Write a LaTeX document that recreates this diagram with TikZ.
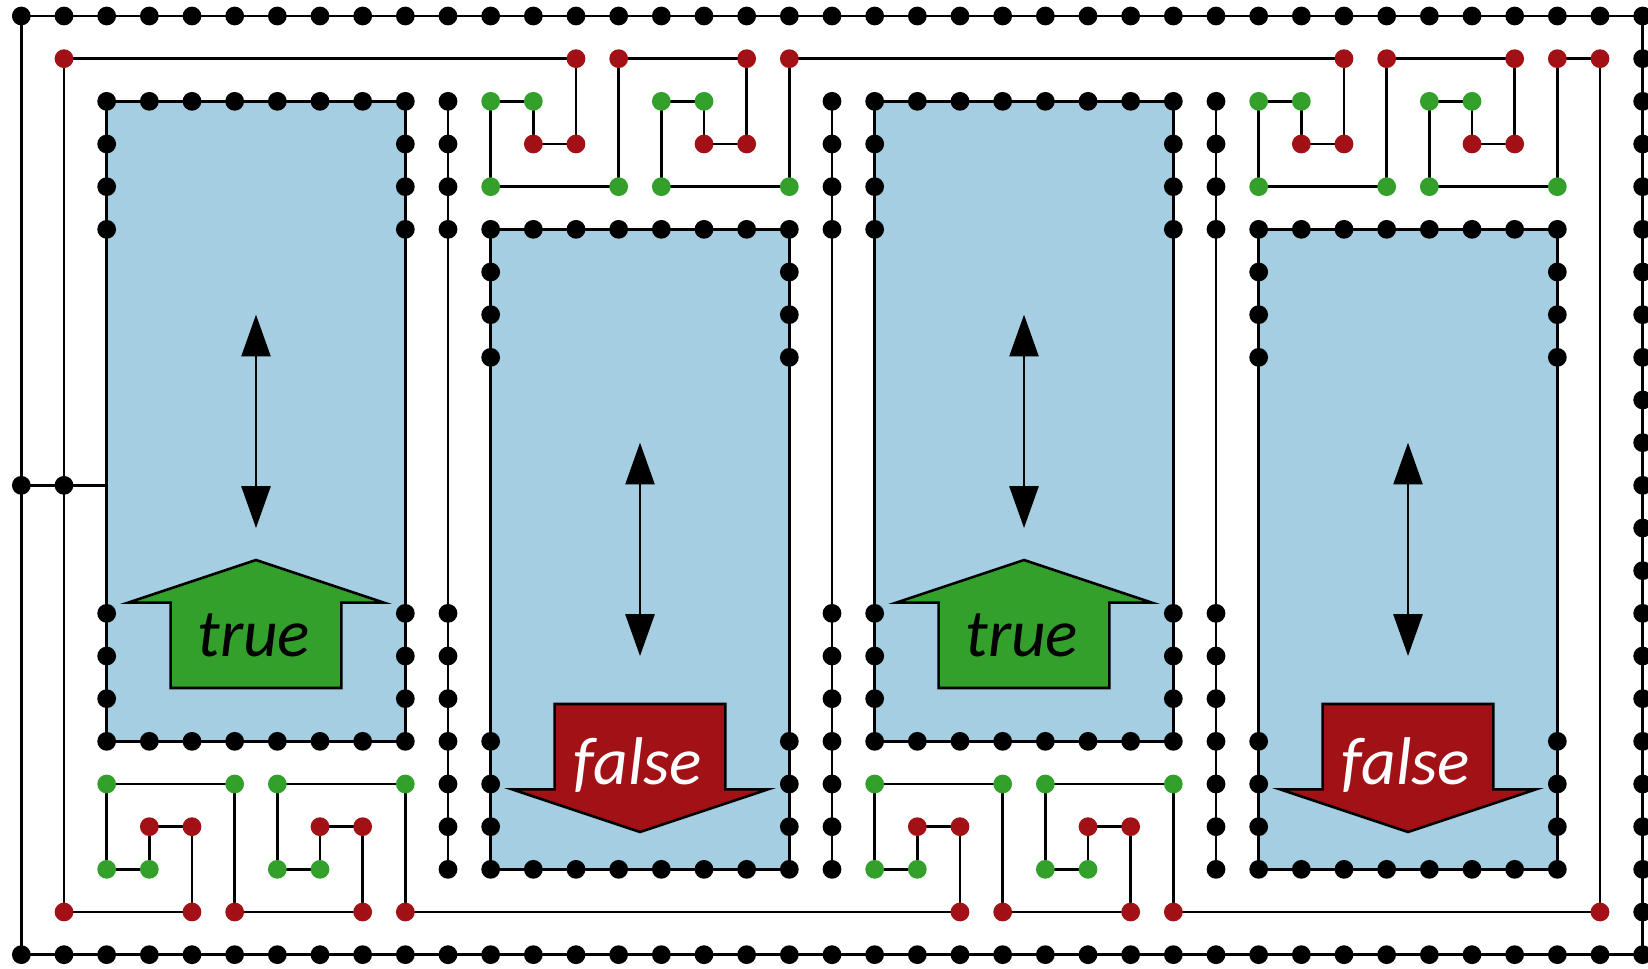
\documentclass[tikz,border=0pt]{standalone}
\usepackage{fontspec}
\setsansfont{Carlito}
\usetikzlibrary{arrows.meta}
\definecolor{boxblue}{RGB}{166,206,227}
\definecolor{dotgreen}{RGB}{51,160,44}
\definecolor{dotred}{RGB}{161,17,21}
\pgfdeclarelayer{wires}
\pgfsetlayers{wires,main}
\begin{document}
\begin{tikzpicture}[
  dotbase/.style={circle, inner sep=0pt, minimum size=0.44cm, draw=none},
  blackdot/.style={dotbase, fill=black},
  reddot/.style={dotbase, fill=dotred},
  greendot/.style={dotbase, fill=dotgreen},
  wire/.style={line width=1.7pt, black},
  boxline/.style={line width=1.7pt, draw=black, fill=boxblue},
  blockline/.style={line width=1.7pt, draw=black, line join=miter},
  dblarrow/.style={line width=1.7pt, {Triangle[length=0.98cm,width=0.68cm]}-{Triangle[length=0.98cm,width=0.68cm]}},
  lbl/.style={font=\sffamily\itshape\fontsize{45}{54}\selectfont, inner sep=0pt, anchor=base}
]
\useasboundingbox (-0.5,0.375) rectangle (38.125,-22.3125);

% ---- frame dots
\foreach \i in {0,...,38} {
  \node[blackdot] (n-\i-0) at (\i,0) {};
  \node[blackdot] (n-\i-22) at (\i,-22) {};
}
\foreach \j in {1,...,21} {
  \node[blackdot] (n-38-\j) at (38,-\j) {};
}
\node[blackdot] (n-0-11) at (0,-11) {};
\node[blackdot] (n-1-11) at (1,-11) {};
\coordinate (tap) at (2,-11);

% ---- box dots
\foreach \x/\y in {2/2,20/2,11/5,29/5} {
  \pgfmathtruncatemacro\xr{\x+7}
  \pgfmathtruncatemacro\yb{\y+15}
  \foreach \k in {0,...,7} {
    \pgfmathtruncatemacro\xx{\x+\k}
    \node[blackdot] (n-\xx-\y) at (\xx,-\y) {};
    \node[blackdot] (n-\xx-\yb) at (\xx,-\yb) {};
  }
  \foreach \k in {1,2,3,12,13,14} {
    \pgfmathtruncatemacro\yy{\y+\k}
    \node[blackdot] (n-\x-\yy) at (\x,-\yy) {};
    \node[blackdot] (n-\xr-\yy) at (\xr,-\yy) {};
  }
}

% ---- separator columns
\foreach \c in {10,19,28} {
  \foreach \j in {2,3,4,5,14,15,16,17,18,19,20} {
    \node[blackdot] (n-\c-\j) at (\c,-\j) {};
  }
}

% ---- corner red dots
\node[reddot] (n-1-1) at (1,-1) {};
\node[reddot] (n-1-21) at (1,-21) {};
\node[reddot] (n-37-1) at (37,-1) {};
\node[reddot] (n-37-21) at (37,-21) {};

% ---- top spirals
\foreach \o in {11,29} {
  \foreach \dx/\y in {2/1,3/1,6/1,7/1,1/3,2/3,5/3,6/3} {
    \pgfmathtruncatemacro\xx{\o+\dx}
    \node[reddot] (n-\xx-\y) at (\xx,-\y) {};
  }
  \foreach \dx/\y in {0/2,1/2,4/2,5/2,0/4,3/4,4/4,7/4} {
    \pgfmathtruncatemacro\xx{\o+\dx}
    \node[greendot] (n-\xx-\y) at (\xx,-\y) {};
  }
}
% ---- bottom spirals
\foreach \o in {2,20} {
  \foreach \dx/\y in {1/19,2/19,5/19,6/19,2/21,3/21,6/21,7/21} {
    \pgfmathtruncatemacro\xx{\o+\dx}
    \node[reddot] (n-\xx-\y) at (\xx,-\y) {};
  }
  \foreach \dx/\y in {0/18,3/18,4/18,7/18,0/20,1/20,4/20,5/20} {
    \pgfmathtruncatemacro\xx{\o+\dx}
    \node[greendot] (n-\xx-\y) at (\xx,-\y) {};
  }
}

% ---- wires
\begin{pgfonlayer}{wires}
  \draw[wire] (n-0-0.center) rectangle (n-38-22.center);
  \draw[wire] (n-0-11.center) -- (n-1-11.center) -- (tap);
  \draw[wire] (n-1-1.center) -- (n-1-21.center);
  \draw[wire] (n-1-1.center) -- (n-13-1.center);
  \draw[wire] (n-18-1.center) -- (n-31-1.center);
  \draw[wire] (n-36-1.center) -- (n-37-1.center) -- (n-37-21.center);
  \draw[wire] (n-1-21.center) -- (n-4-21.center);
  \draw[wire] (n-9-21.center) -- (n-22-21.center);
  \draw[wire] (n-27-21.center) -- (n-37-21.center);
  \foreach \c in {10,19,28} {
    \draw[wire] (n-\c-2.center) -- (n-\c-20.center);
  }
  \foreach \x/\y in {2/2,20/2,11/5,29/5} {
    \pgfmathtruncatemacro\xr{\x+7}
    \pgfmathtruncatemacro\yb{\y+15}
    \filldraw[boxline] (n-\x-\y.center) rectangle (n-\xr-\yb.center);
  }
  \foreach \o in {11,29} {
    \pgfmathtruncatemacro\a{\o}
    \pgfmathtruncatemacro\b{\o+1}
    \pgfmathtruncatemacro\c{\o+2}
    \pgfmathtruncatemacro\d{\o+3}
    \pgfmathtruncatemacro\e{\o+4}
    \pgfmathtruncatemacro\f{\o+5}
    \pgfmathtruncatemacro\g{\o+6}
    \pgfmathtruncatemacro\h{\o+7}
    \draw[wire] (n-\c-1.center) -- (n-\c-3.center) -- (n-\b-3.center) -- (n-\b-2.center)
      -- (n-\a-2.center) -- (n-\a-4.center) -- (n-\d-4.center) -- (n-\d-1.center)
      -- (n-\g-1.center) -- (n-\g-3.center) -- (n-\f-3.center) -- (n-\f-2.center)
      -- (n-\e-2.center) -- (n-\e-4.center) -- (n-\h-4.center) -- (n-\h-1.center);
  }
  \foreach \o in {2,20} {
    \pgfmathtruncatemacro\a{\o}
    \pgfmathtruncatemacro\b{\o+1}
    \pgfmathtruncatemacro\c{\o+2}
    \pgfmathtruncatemacro\d{\o+3}
    \pgfmathtruncatemacro\e{\o+4}
    \pgfmathtruncatemacro\f{\o+5}
    \pgfmathtruncatemacro\g{\o+6}
    \pgfmathtruncatemacro\h{\o+7}
    \draw[wire] (n-\c-21.center) -- (n-\c-19.center) -- (n-\b-19.center) -- (n-\b-20.center)
      -- (n-\a-20.center) -- (n-\a-18.center) -- (n-\d-18.center) -- (n-\d-21.center)
      -- (n-\g-21.center) -- (n-\g-19.center) -- (n-\f-19.center) -- (n-\f-20.center)
      -- (n-\e-20.center) -- (n-\e-18.center) -- (n-\h-18.center) -- (n-\h-21.center);
  }
\end{pgfonlayer}

% ---- true boxes
\foreach \s in {0,18} {
  \begin{scope}[xshift=\s cm]
    \coordinate (ta-\s) at (5.5,-7);
    \coordinate (tb-\s) at (5.5,-12);
    \draw[dblarrow] (ta-\s) -- (tb-\s);
    \filldraw[blockline, fill=dotgreen] (2.5,-13.75) -- (5.5,-12.75) -- (8.5,-13.75) -- (7.5,-13.75)
      -- (7.5,-15.75) -- (3.5,-15.75) -- (3.5,-13.75) -- cycle;
    \node[lbl, text=black] (truetext-\s) at (5.45,-15) {true};
  \end{scope}
}
% ---- false boxes
\foreach \s in {0,18} {
  \begin{scope}[xshift=\s cm]
    \coordinate (fa-\s) at (14.5,-10);
    \coordinate (fb-\s) at (14.5,-15);
    \draw[dblarrow] (fa-\s) -- (fb-\s);
    \filldraw[blockline, fill=dotred] (12.5,-16.125) -- (16.5,-16.125) -- (16.5,-18.125) -- (17.5,-18.125)
      -- (14.5,-19.125) -- (11.5,-18.125) -- (12.5,-18.125) -- cycle;
    \node[lbl, text=white] (falsetext-\s) at (14.45,-18) {false};
  \end{scope}
}
\end{tikzpicture}
\end{document}
